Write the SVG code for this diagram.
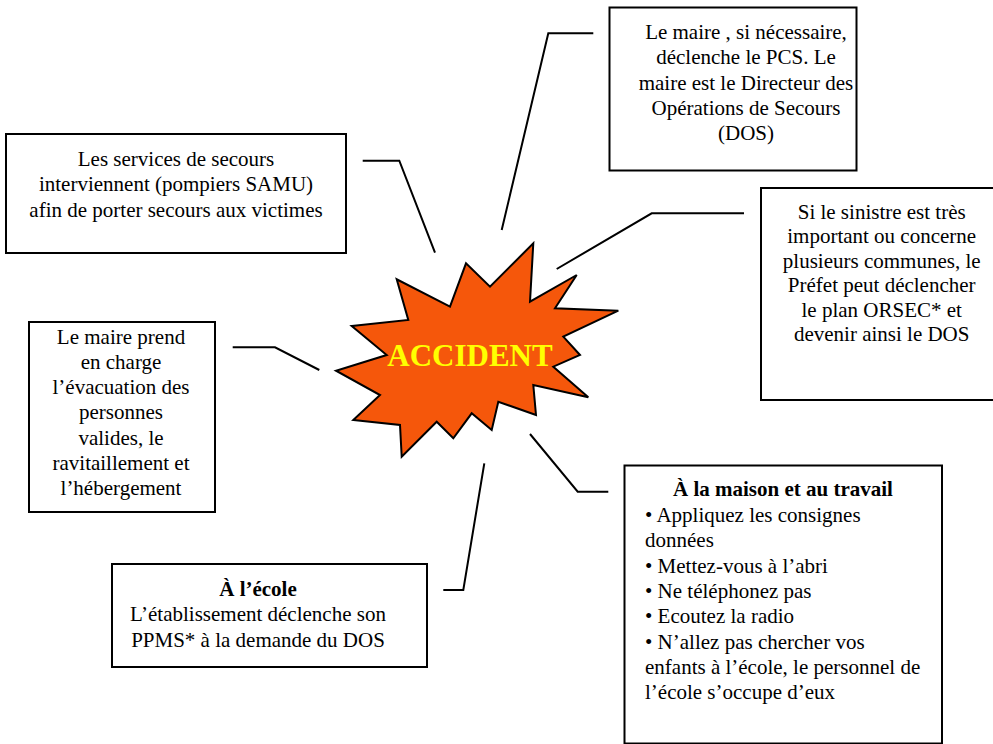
<svg xmlns="http://www.w3.org/2000/svg" width="993" height="744" viewBox="0 0 993 744">
<style>
.box{fill:#fff;stroke:#000;stroke-width:2}
text{font-family:'Liberation Serif','DejaVu Serif',serif;font-size:21px;fill:#000}
.c{text-anchor:middle}
.b{font-weight:bold}
.conn{fill:none;stroke:#000;stroke-width:2}
</style>
<rect width="993" height="744" fill="#fff"/>
<g id="connectors" class="conn">
<polyline points="362.7,160.7 399.3,160.7 435,252.7"/>
<polyline points="593.3,33.3 548.3,33.3 501.7,230"/>
<polyline points="744,213.3 651.7,213.3 556.7,269"/>
<polyline points="232.7,347.3 275,347.3 319.3,370"/>
<polyline points="530,434 577.7,491.7 608.3,491.7"/>
<polyline points="484.3,463.3 463.3,590 443.3,590"/>
</g>
<g id="accident">
<polygon points="533.3,243.3 530,301.7 576.7,275 555,308.3 618.3,310.7 563.3,336.7 580,355 553.3,366.7 588.3,397.3 533.3,385 536,415 498.3,401.7 491.7,430 471.7,413.3 453.3,438.3 436.7,421.7 401.7,456.7 400,425 353.3,420 380,395 336,370.7 386.7,355 351.7,326 408.3,320 396.7,279.3 450,306.7 466,263.3 490,286.7" fill="#F5570B" stroke="#000" stroke-width="2"/>
<text x="470" y="366" class="c b" style="font-size:31px;fill:#FFFF00">ACCIDENT</text>
</g>
<g id="secours">
<rect class="box" x="6" y="134" width="340" height="119"/>
<text class="c" x="176" y="166">Les services de secours</text>
<text class="c" x="176" y="191.3">interviennent (pompiers SAMU)</text>
<text class="c" x="176" y="216.6">afin de porter secours aux victimes</text>
</g>
<g id="maire-pcs">
<rect class="box" x="609.5" y="7.5" width="247" height="163"/>
<text class="c" x="746" y="39">Le maire , si nécessaire,</text>
<text class="c" x="746" y="64.3">déclenche le PCS. Le</text>
<text class="c" x="746" y="89.6">maire est le Directeur des</text>
<text class="c" x="746" y="114.9">Opérations de Secours</text>
<text class="c" x="746" y="140.2">(DOS)</text>
</g>
<g id="prefet">
<rect class="box" x="761" y="188" width="240" height="212"/>
<text class="c" x="881.7" y="218.5">Si le sinistre est très</text>
<text class="c" x="881.7" y="243">important ou concerne</text>
<text class="c" x="881.7" y="267.5">plusieurs communes, le</text>
<text class="c" x="881.7" y="292">Préfet peut déclencher</text>
<text class="c" x="881.7" y="316.5">le plan ORSEC* et</text>
<text class="c" x="881.7" y="341">devenir ainsi le DOS</text>
</g>
<g id="evacuation">
<rect class="box" x="29" y="322" width="186" height="190"/>
<text class="c" x="121" y="343.5">Le maire prend</text>
<text class="c" x="121" y="368.8">en charge</text>
<text class="c" x="121" y="394.1">l’évacuation des</text>
<text class="c" x="121" y="419.4">personnes</text>
<text class="c" x="121" y="444.7">valides, le</text>
<text class="c" x="121" y="470">ravitaillement et</text>
<text class="c" x="121" y="495.3">l’hébergement</text>
</g>
<g id="ecole">
<rect class="box" x="112" y="564" width="315" height="103"/>
<text class="c b" x="258" y="596">À l’école</text>
<text class="c" x="258" y="621.3">L’établissement déclenche son</text>
<text class="c" x="258" y="646.6">PPMS* à la demande du DOS</text>
</g>
<g id="maison">
<rect class="box" x="624.5" y="465.5" width="317.5" height="278"/>
<text class="c b" x="783" y="496">À la maison et au travail</text>
<text x="645" y="522">• Appliquez les consignes</text>
<text x="645" y="547.3">données</text>
<text x="645" y="572.6">• Mettez-vous à l’abri</text>
<text x="645" y="597.9">• Ne téléphonez pas</text>
<text x="645" y="623.2">• Ecoutez la radio</text>
<text x="645" y="648.5">• N’allez pas chercher vos</text>
<text x="645" y="673.8">enfants à l’école, le personnel de</text>
<text x="645" y="699.1">l’école s’occupe d’eux</text>
</g>
</svg>
